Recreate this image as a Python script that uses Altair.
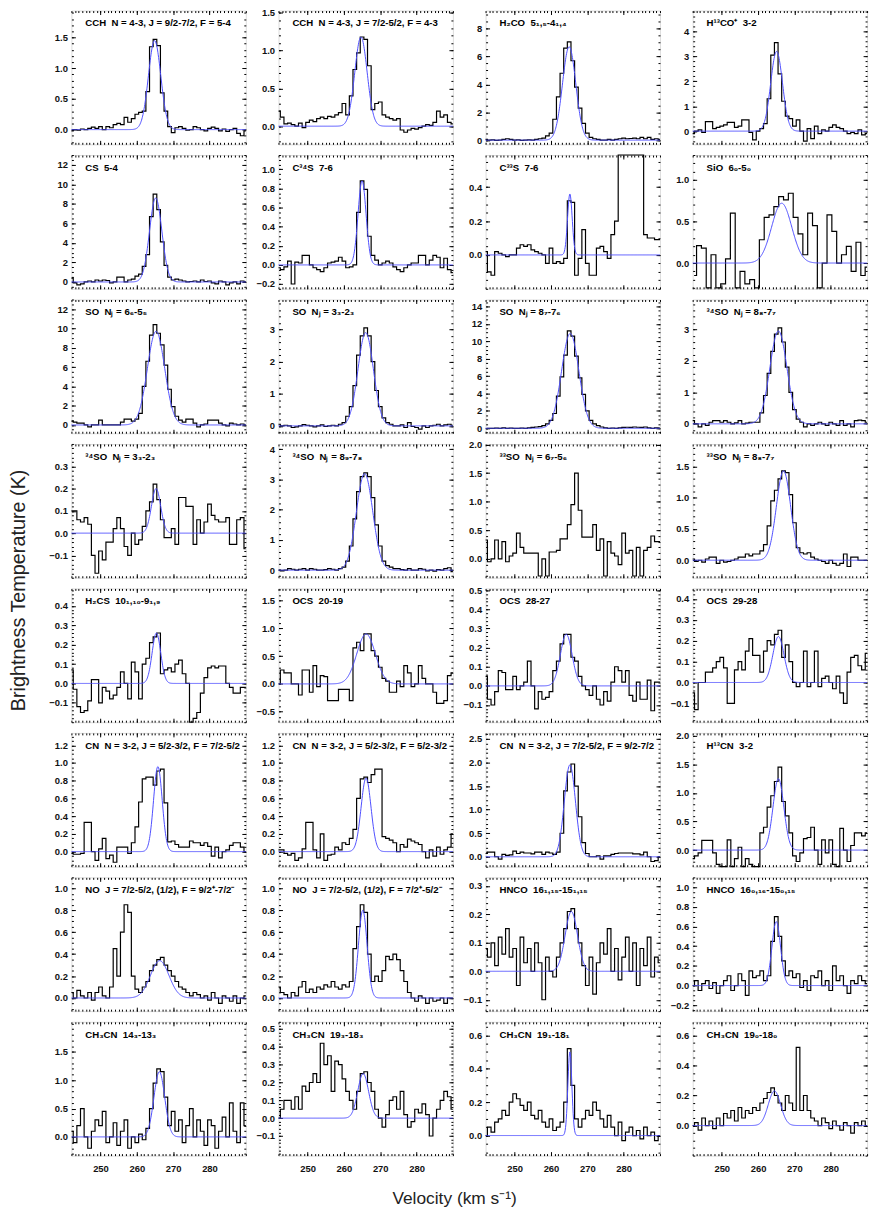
import altair as alt
import numpy as np
import pandas as pd

FONT = "Liberation Sans"
BLUE = "#4d4dff"
V_MIN, V_MAX = 242, 290
X_MAJOR = [250, 260, 270, 280]
X_MINOR = list(range(242, 291))
SP = "\u00a0\u00a0"

titles = [
    f"CCH{SP}N = 4-3, J = 9/2-7/2, F = 5-4", f"CCH{SP}N = 4-3, J = 7/2-5/2, F = 4-3",
    f"H₂CO{SP}5₁,₅-4₁,₄", f"H¹³CO⁺{SP}3-2",
    f"CS{SP}5-4", f"C³⁴S{SP}7-6", f"C³³S{SP}7-6", f"SiO{SP}6₀-5₀",
    f"SO{SP}Nⱼ = 6₆-5₅", f"SO{SP}Nⱼ = 3₃-2₃", f"SO{SP}Nⱼ = 8₇-7₆", f"³⁴SO{SP}Nⱼ = 8₈-7₇",
    f"³⁴SO{SP}Nⱼ = 3₃-2₃", f"³⁴SO{SP}Nⱼ = 8₉-7₈", f"³³SO{SP}Nⱼ = 6₇-5₆", f"³³SO{SP}Nⱼ = 8₈-7₇",
    f"H₂CS{SP}10₁,₁₀-9₁,₉", f"OCS{SP}20-19", f"OCS{SP}28-27", f"OCS{SP}29-28",
    f"CN{SP}N = 3-2, J = 5/2-3/2, F = 7/2-5/2", f"CN{SP}N = 3-2, J = 5/2-3/2, F = 5/2-3/2",
    f"CN{SP}N = 3-2, J = 7/2-5/2, F = 9/2-7/2", f"H¹³CN{SP}3-2",
    f"NO{SP}J = 7/2-5/2, (1/2), F = 9/2⁺-7/2⁻", f"NO{SP}J = 7/2-5/2, (1/2), F = 7/2⁺-5/2⁻",
    f"HNCO{SP}16₁,₁₅-15₁,₁₅", f"HNCO{SP}16₀,₁₆-15₀,₁₅",
    f"CH₃CN{SP}14₃-13₃", f"CH₃CN{SP}19₃-18₃", f"CH₃CN{SP}19₁-18₁", f"CH₃CN{SP}19₀-18₀",
]

y_ranges = [
    (-0.24, 1.94), (-0.24, 1.53), (-0.3, 9.3), (-0.53, 4.84),
    (-0.7, 13.0), (-0.25, 1.15), (-0.2, 0.59), (-0.31, 1.3),
    (-0.86, 13.0), (-0.23, 3.93), (-0.57, 14.8), (-0.3, 3.95),
    (-0.2, 0.4), (-0.25, 4.18), (-0.33, 2.01), (-0.28, 1.86),
    (-0.2, 0.49), (-0.69, 1.72), (-0.19, 0.51), (-0.19, 0.45),
    (-0.17, 1.34), (-0.17, 1.34), (-0.21, 2.63), (-0.29, 2.05),
    (-0.12, 1.1), (-0.12, 1.1), (-0.14, 0.33), (-0.26, 1.1),
    (-0.33, 2.03), (-0.21, 0.54), (-0.12, 0.68), (-0.2, 0.69),
]

y_ticks = [
    [0, 0.5, 1.0, 1.5], [0, 0.5, 1.0, 1.5], [0, 2, 4, 6, 8], [0, 1, 2, 3, 4],
    [0, 2, 4, 6, 8, 10, 12], [-0.2, 0, 0.2, 0.4, 0.6, 0.8, 1.0], [0, 0.2, 0.4], [0, 0.5, 1.0],
    [0, 2, 4, 6, 8, 10, 12], [0, 1, 2, 3], [0, 2, 4, 6, 8, 10, 12, 14], [0, 1, 2, 3],
    [-0.1, 0, 0.1, 0.2, 0.3], [0, 1, 2, 3, 4], [0, 0.5, 1.0, 1.5, 2.0], [0, 0.5, 1.0, 1.5],
    [-0.1, 0, 0.1, 0.2, 0.3, 0.4], [-0.5, 0, 0.5, 1.0, 1.5], [-0.1, 0, 0.1, 0.2, 0.3, 0.4, 0.5], [-0.1, 0, 0.1, 0.2, 0.3, 0.4],
    [0, 0.2, 0.4, 0.6, 0.8, 1.0, 1.2], [0, 0.2, 0.4, 0.6, 0.8, 1.0, 1.2], [0, 0.5, 1.0, 1.5, 2.0, 2.5], [0, 0.5, 1.0, 1.5, 2.0],
    [0, 0.2, 0.4, 0.6, 0.8, 1.0], [0, 0.2, 0.4, 0.6, 0.8, 1.0], [-0.1, 0, 0.1, 0.2, 0.3], [-0.2, 0, 0.2, 0.4, 0.6, 0.8, 1.0],
    [0, 0.5, 1.0, 1.5], [-0.1, 0, 0.1, 0.2, 0.3, 0.4, 0.5], [0, 0.2, 0.4, 0.6], [0, 0.2, 0.4, 0.6],
]

# spectra: brightness temperature per channel (K), channels start at 242 km/s, 1 km/s wide unless noted
spec01 = [-0.02, 0.0, -0.01, 0.01, 0.0, 0.02, 0.04, 0.02, 0.05, 0.0,
          0.05, 0.03, 0.08, 0.1, 0.08, 0.2, 0.12, 0.18, 0.25, 0.28,
          0.3, 0.62, 1.35, 1.47, 1.37, 0.6, 0.3, 0.05, -0.05, 0.03,
          0.05, 0.02, -0.01, 0.0, 0.05, 0.03, 0.0, -0.02, 0.02, 0.04,
          0.02, -0.02, 0.01, -0.03, 0.0, 0.02, -0.06, -0.1, -0.02]
spec02 = [0.2, 0.12, 0.03, 0.04, 0.02, 0.0, 0.04, -0.02, 0.05, 0.08,
          0.06, 0.1, 0.12, 0.1, 0.13, 0.12, 0.15, 0.18, 0.3, 0.15,
          0.4, 0.75, 0.97, 1.18, 1.15, 0.8, 0.22, 0.3, 0.32, 0.15,
          0.12, 0.1, 0.08, 0.1, -0.05, -0.08, -0.05, -0.03, -0.04, -0.02,
          0.0, 0.02, 0.01, 0.05, 0.2, 0.12, 0.15, 0.05, 0.03]
spec03 = [0.05, 0.0, 0.02, -0.02, 0.0, 0.05, 0.1, 0.05, 0.0, 0.02,
          -0.02, 0.0, 0.02, 0.0, 0.05, 0.1, 0.15, 0.3, 0.5, 1.5,
          3.1, 4.8, 6.6, 7.05, 5.7, 3.8, 2.3, 1.2, 0.5, 0.2,
          0.1, 0.05, 0.0, 0.0, 0.05, 0.0, 0.05, 0.1, 0.15, 0.1,
          0.12, 0.15, 0.1, 0.2, 0.1, 0.2, 0.05, 0.1, 0.05]
spec04 = [-0.1, 0.0, 0.05, -0.05, 0.38, 0.38, 0.1, 0.15, 0.2, 0.25,
          0.35, 0.35, 0.15, 0.2, 0.45, 0.45, -0.05, -0.35, 0.0, 0.1,
          0.3, 1.3, 3.05, 3.55, 2.3, 1.2, 0.6, 0.5, 0.2, 0.45,
          0.0, -0.4, 0.1, -0.3, 0.2, -0.1, 0.05, 0.0, 0.15, 0.25,
          0.15, 0.1, 0.0, -0.1, -0.05, -0.1, 0.05, -0.15, -0.1]
spec05 = [0.4, -0.1, -0.3, -0.2, 0.0, 0.1, 0.0, 0.2, 0.1, 0.2,
          0.15, -0.1, 0.0, 0.5, 0.5, 0.0, 0.2, 0.3, 0.6, 0.8,
          1.6, 2.8, 6.7, 9.0, 7.4, 4.1, 1.7, 0.5, 0.2, 0.3,
          0.2, 0.1, 0.0, 0.05, 0.1, 0.0, 0.2, 0.05, 0.1, -0.1,
          -0.2, 0.1, 0.0, -0.3, -0.1, 0.0, -0.2, 0.1, 0.0]
spec06 = [-0.03, -0.05, -0.02, 0.04, -0.2, 0.03, 0.02, 0.1, 0.1, 0.0,
          -0.03, -0.05, -0.07, -0.03, 0.02, 0.03, 0.04, 0.08, 0.04, -0.03,
          -0.02, 0.0, 0.55, 0.88, 0.79, 0.3, 0.1, 0.05, 0.0, 0.02,
          0.04, 0.02, -0.02, -0.05, -0.07, -0.03, 0.0, 0.02, 0.02, 0.1,
          0.1, 0.0, 0.05, 0.1, 0.08, -0.03, 0.07, -0.05, -0.08]
spec07 = [0.02, -0.1, -0.12, 0.02, 0.01, 0.0, -0.01, 0.0, 0.0, 0.04,
          0.06, 0.05, 0.06, 0.03, 0.02, 0.01, 0.0, -0.05, 0.04, -0.05,
          -0.04, -0.05, -0.02, 0.32, 0.31, -0.12, -0.02, 0.15, -0.05, -0.12,
          -0.12, 0.04, 0.05, 0.02, -0.02, 0.12, 0.2, 0.9, 1.2, 1.1,
          1.0, 1.2, 1.0, 0.9, 0.12, 0.1, 0.1, 0.09, 0.09]
# SiO: channels 1.33 km/s wide starting at 242.4 km/s
spec08 = [-0.15, 0.21, 0.18, -0.3, 0.1, -0.3, -0.25, 0.05, 0.6, -0.3,
          -0.1, -0.25, -0.2, -0.3, 0.28, 0.55, 0.58, 0.68, 0.8, 0.76,
          0.84, 0.55, 0.35, 0.1, 0.6, 0.45, -0.3, 0.0, 0.58, 0.38,
          0.0, 0.1, 0.2, -0.1, 0.25, -0.15, -0.05]
spec09 = [0.4, 0.3, 0.2, 0.2, 0.0, -0.2, 0.0, 0.0, 0.5, 0.0,
          0.0, 0.0, 0.0, 0.0, 0.3, 0.6, 0.6, 0.4, 0.6, 1.2,
          4.0, 6.6, 9.3, 10.4, 9.5, 8.3, 6.2, 3.7, 1.9, 0.9,
          0.5, 0.3, 0.6, 0.6, 0.2, -0.2, 0.0, 0.1, 0.5, 0.5,
          0.5, 0.2, 0.0, -0.1, 0.2, 0.1, 0.0, 0.1, 0.0]
spec10 = [0.05, 0.0, 0.02, 0.0, -0.05, -0.03, 0.0, 0.04, 0.02, 0.0,
          -0.03, 0.0, 0.03, -0.02, 0.0, 0.02, 0.0, 0.05, 0.1, 0.3,
          0.6, 1.25, 2.2, 2.8, 3.05, 2.8, 2.0, 1.1, 0.6, 0.25,
          0.1, 0.05, 0.0, 0.0, 0.03, -0.05, 0.1, -0.02, -0.05, -0.1,
          0.0, -0.05, 0.0, 0.02, 0.05, 0.0, 0.03, 0.05, 0.02]
spec11 = [-0.05, 0.0, 0.0, 0.02, 0.0, 0.05, 0.0, 0.02, 0.0, 0.0,
          0.03, 0.0, 0.05, 0.1, 0.15, 0.2, 0.3, 0.5, 0.9, 1.7,
          3.7, 5.9, 8.4, 11.2, 10.6, 8.3, 5.8, 3.9, 2.0, 0.9,
          0.5, 0.3, 0.15, 0.05, 0.0, 0.02, 0.0, 0.05, 0.1, 0.12,
          0.1, 0.15, 0.12, 0.1, 0.15, 0.05, 0.0, 0.05, 0.02]
spec12 = [0.1, 0.0, -0.1, 0.0, -0.05, 0.05, 0.1, 0.1, 0.05, 0.1,
          0.05, 0.0, 0.03, 0.1, 0.0, 0.02, 0.05, 0.05, 0.05, 0.35,
          0.9, 1.6, 2.3, 2.85, 3.05, 2.6, 1.8, 1.0, 0.45, 0.15,
          0.05, -0.1, 0.0, -0.05, 0.0, 0.05, 0.0, -0.05, 0.05, 0.0,
          -0.05, 0.1, -0.05, 0.0, -0.1, 0.1, 0.12, 0.1, 0.05]
spec13 = [0.1, 0.1, 0.06, 0.05, 0.07, 0.04, -0.1, -0.18, -0.08, -0.12,
          -0.04, -0.04, 0.02, 0.07, 0.02, -0.06, -0.1, 0.0, -0.05, -0.03,
          0.03, 0.1, 0.14, 0.22, 0.15, 0.06, -0.02, -0.02, 0.02, -0.05,
          0.16, 0.16, 0.12, 0.12, -0.05, 0.06, 0.0, 0.05, 0.13, 0.08,
          0.06, 0.05, 0.05, 0.07, -0.05, -0.05, 0.06, 0.07, -0.07]
spec14 = [0.0, -0.02, 0.0, 0.05, 0.03, 0.0, 0.03, 0.05, 0.0, 0.05,
          0.03, 0.0, 0.0, 0.02, 0.05, 0.03, 0.0, 0.05, 0.1, 0.3,
          0.8, 1.7, 2.6, 3.1, 3.22, 3.1, 2.4, 1.5, 0.8, 0.3,
          0.15, 0.1, 0.05, 0.05, 0.02, 0.0, 0.05, 0.0, 0.0, 0.05,
          0.03, -0.02, 0.0, -0.03, 0.02, 0.0, 0.05, 0.08, -0.05]
spec15 = [0.33, -0.05, 0.0, 0.33, 0.0, 0.3, -0.05, 0.05, 0.1, 0.45,
          0.2, 0.1, 0.1, 0.1, 0.1, -0.3, 0.0, -0.3, 0.12, 0.12,
          0.15, 0.35, 0.35, 0.6, 0.95, 1.5, 0.85, 0.38, 0.38, 0.38,
          0.6, 0.15, 0.35, -0.3, 0.3, 0.1, 0.05, -0.1, 0.45, 0.1,
          0.15, -0.3, 0.2, -0.3, 0.15, 0.2, 0.4, 0.3, 0.3]
spec16 = [0.02, -0.02, 0.0, -0.03, 0.02, 0.05, 0.05, -0.05, 0.0, -0.03,
          -0.02, 0.0, 0.02, 0.05, 0.05, 0.1, 0.07, 0.1, 0.1, 0.15,
          0.25, 0.55, 0.95, 1.12, 1.3, 1.43, 1.4, 1.05, 0.6, 0.2,
          0.12, 0.1, 0.12, 0.05, 0.02, 0.0, -0.02, -0.05, 0.0, -0.05,
          -0.08, -0.05, 0.1, -0.1, 0.05, 0.05, 0.0, 0.0, 0.0]
spec17 = [0.07, -0.03, -0.12, -0.15, -0.14, -0.09, 0.02, 0.02, -0.1, -0.02,
          -0.04, -0.08, -0.06, -0.02, 0.06, 0.0, -0.08, 0.11, 0.06, -0.08,
          0.1, 0.13, 0.21, 0.24, 0.26, 0.05, 0.07, 0.08, 0.06, 0.1,
          0.12, 0.05, 0.0, -0.2, -0.18, -0.15, -0.05, 0.03, 0.08, 0.09,
          0.08, 0.09, 0.09, 0.0, -0.02, -0.05, -0.05, -0.02, -0.02]
spec18 = [0.0, 0.25, 0.2, 0.2, 0.0, 0.0, -0.2, 0.25, 0.25, -0.15,
          0.33, -0.05, 0.15, 0.13, -0.3, -0.3, -0.3, -0.1, -0.1, -0.1,
          -0.3, 0.65, 0.75, 0.6, 0.9, 0.9, 0.6, 0.5, 0.3, 0.1,
          0.05, -0.15, -0.15, 0.05, -0.05, 0.33, 0.2, -0.05, 0.0, 0.33,
          0.1, 0.0, 0.0, -0.15, -0.35, -0.35, -0.3, 0.15, 0.2]
spec19 = [0.05, -0.07, -0.1, -0.03, 0.08, 0.07, -0.02, -0.02, 0.05, -0.02,
          0.0, 0.02, 0.13, 0.0, -0.12, -0.03, -0.07, -0.06, -0.03, 0.08,
          0.13, 0.22, 0.27, 0.27, 0.15, 0.13, 0.05, 0.0, -0.02, -0.05,
          0.0, -0.07, -0.1, -0.03, -0.08, 0.02, 0.1, 0.08, 0.02, 0.08,
          -0.05, -0.08, 0.02, -0.07, -0.07, 0.03, -0.13, 0.02, 0.02]
spec20 = [-0.05, -0.13, 0.0, 0.0, 0.05, 0.05, 0.07, 0.1, 0.12, 0.07,
          -0.1, -0.1, 0.06, 0.1, 0.06, 0.15, 0.21, 0.13, 0.13, 0.05,
          0.15, 0.2, 0.18, 0.23, 0.25, 0.12, 0.18, 0.1, 0.0, -0.02,
          0.0, 0.15, -0.02, 0.0, 0.15, -0.02, 0.02, 0.03, 0.0, -0.03,
          0.03, -0.05, -0.1, 0.05, 0.12, 0.13, 0.08, 0.06, 0.14]
spec21 = [-0.02, -0.03, -0.03, -0.02, 0.33, 0.33, 0.0, -0.1, 0.03, 0.15,
          -0.08, -0.04, -0.12, 0.05, 0.05, 0.05, -0.02, 0.1, 0.28, 0.56,
          0.82, 0.84, 0.84, 0.75, 0.91, 0.93, 0.55, 0.11, 0.12, 0.08,
          0.05, 0.05, 0.05, 0.12, 0.1, 0.1, 0.07, 0.1, 0.06, -0.05,
          0.05, -0.07, 0.0, 0.02, 0.07, 0.1, 0.1, 0.05, 0.0]
spec22 = [0.02, 0.02, -0.02, -0.04, -0.02, -0.1, -0.07, 0.03, 0.33, 0.33,
          0.02, -0.07, 0.2, -0.1, -0.04, -0.03, 0.05, 0.02, 0.1, 0.08,
          0.15, 0.25, 0.6, 0.82, 0.84, 0.78, 0.87, 0.93, 0.93, 0.17,
          0.15, 0.13, 0.1, 0.0, 0.08, 0.05, 0.14, 0.12, 0.1, 0.08,
          0.0, -0.07, 0.02, -0.05, 0.05, -0.03, 0.02, 0.05, 0.2]
spec23 = [0.07, 0.1, 0.1, 0.0, -0.05, 0.05, 0.03, 0.04, 0.12, 0.07,
          0.1, 0.08, 0.08, 0.06, 0.1, 0.1, 0.05, 0.1, 0.08, 0.05,
          0.1, 0.5, 1.4, 1.8, 1.97, 1.5, 0.85, 0.3, 0.07, 0.0,
          0.0, 0.02, -0.05, 0.02, 0.02, 0.05, 0.07, 0.08, 0.08, 0.08,
          0.08, 0.06, 0.06, 0.04, 0.1, 0.0, -0.1, -0.08, 0.0]
spec24 = [-0.15, -0.1, -0.05, 0.17, 0.17, 0.17, -0.05, -0.25, -0.3, -0.35,
          0.18, -0.35, -0.15, 0.05, -0.35, -0.15, -0.25, -0.35, -0.35, 0.3,
          0.4, 0.75, 0.95, 1.2, 1.45, 0.85, 0.6, 0.3, -0.1, -0.2,
          -0.05, 0.2, 0.22, 0.4, 0.0, -0.25, 0.18, -0.05, 0.18, -0.25,
          -0.35, 0.38, 0.0, -0.2, 0.08, 0.3, 0.3, 0.25, 0.3]
spec25 = [0.05, 0.0, 0.07, 0.02, 0.0, 0.05, -0.02, 0.05, 0.1, 0.02,
          0.0, 0.1, 0.45, 0.2, 0.6, 0.85, 0.78, 0.2, 0.08, 0.05,
          0.1, 0.15, 0.25, 0.3, 0.35, 0.37, 0.3, 0.25, 0.2, 0.15,
          0.1, 0.08, 0.05, 0.02, 0.05, 0.03, 0.0, 0.02, -0.02, 0.05,
          0.0, -0.05, 0.02, 0.0, -0.03, 0.02, -0.05, 0.0, 0.02]
spec26 = [0.1, 0.05, 0.03, 0.0, 0.05, 0.02, 0.1, 0.15, 0.05, 0.08,
          0.05, 0.1, 0.08, 0.12, 0.1, 0.15, 0.1, 0.08, 0.12, 0.1,
          0.15, 0.45, 0.65, 0.85, 0.78, 0.4, 0.15, 0.2, 0.15, 0.25,
          0.38, 0.35, 0.4, 0.35, 0.25, 0.15, 0.05, 0.0, -0.03, 0.02,
          0.0, -0.05, 0.0, -0.03, -0.02, 0.0, -0.05, 0.0, 0.0]
spec27 = [0.08, 0.05, 0.1, 0.02, 0.12, 0.06, 0.15, 0.05, 0.08, -0.05,
          0.12, 0.03, 0.08, 0.0, 0.1, 0.03, -0.1, 0.05, 0.0, -0.02,
          0.05, 0.1, 0.15, 0.21, 0.22, 0.15, 0.1, 0.02, -0.05, 0.05,
          -0.08, 0.03, 0.1, 0.06, 0.15, 0.0, 0.08, -0.03, 0.05, 0.12,
          0.0, 0.1, -0.05, 0.08, 0.02, 0.12, -0.02, 0.05, 0.03]
spec28 = [0.0, 0.05, -0.05, 0.02, 0.05, -0.03, 0.03, -0.08, 0.0, 0.05,
          0.1, -0.05, 0.0, 0.12, 0.05, -0.1, 0.15, 0.08, 0.1, 0.15,
          0.05, 0.1, 0.45, 0.7, 0.5, 0.25, 0.1, 0.15, 0.08, 0.12,
          -0.02, 0.05, -0.05, 0.1, 0.08, 0.15, 0.0, 0.05, -0.05, 0.2,
          0.05, 0.1, 0.0, -0.08, 0.05, 0.02, 0.1, 0.05, 0.02]
spec29 = [0.1, -0.1, 0.2, 0.5, 0.0, -0.2, 0.1, 0.3, 0.2, 0.45,
          -0.1, 0.0, 0.25, -0.15, 0.1, 0.3, -0.2, 0.0, -0.1, 0.05,
          -0.05, 0.15, 0.5, 0.95, 1.2, 1.15, 0.7, 0.2, 0.45, 0.1,
          0.3, -0.1, 0.2, 0.5, 0.0, 0.3, 0.1, -0.15, 0.3, 0.2,
          -0.2, 0.1, 0.35, 0.0, 0.6, 0.1, -0.1, 0.6, 0.2]
spec30 = [0.0, 0.05, 0.1, 0.1, 0.05, 0.12, 0.05, 0.18, 0.15, 0.2,
          0.25, 0.2, 0.42, 0.3, 0.35, 0.15, 0.32, 0.3, 0.22, 0.15,
          0.1, 0.05, 0.15, 0.25, 0.26, 0.2, 0.15, 0.05, 0.0, -0.05,
          0.02, 0.1, 0.12, 0.05, 0.15, 0.02, -0.05, -0.02, 0.05, 0.03,
          0.08, 0.02, -0.1, 0.0, 0.05, 0.1, 0.15, 0.12, 0.05]
spec31 = [0.0, 0.05, 0.02, 0.08, 0.1, 0.15, 0.12, 0.2, 0.25, 0.22,
          0.18, 0.15, 0.2, 0.12, 0.1, 0.15, 0.08, 0.05, 0.1, 0.03,
          0.05, 0.08, 0.2, 0.52, 0.3, 0.1, 0.05, 0.1, 0.15, 0.12,
          0.2, 0.15, 0.1, 0.05, 0.12, 0.05, 0.0, 0.08, -0.03, 0.02,
          0.05, 0.0, 0.03, -0.02, 0.05, 0.0, 0.02, -0.03, 0.0]
spec32 = [0.0, 0.02, -0.03, 0.05, 0.0, 0.03, -0.02, 0.05, 0.0, 0.08,
          0.05, 0.1, 0.03, 0.12, 0.05, 0.1, 0.08, 0.12, 0.1, 0.15,
          0.18, 0.22, 0.25, 0.2, 0.15, 0.1, 0.2, 0.15, 0.1, 0.52,
          0.1, 0.2, 0.1, 0.05, 0.03, 0.0, 0.05, 0.02, -0.02, 0.03,
          0.0, -0.03, 0.02, 0.0, -0.05, 0.02, 0.0, 0.03, 0.0]

spectra = [spec01, spec02, spec03, spec04, spec05, spec06, spec07, spec08,
           spec09, spec10, spec11, spec12, spec13, spec14, spec15, spec16,
           spec17, spec18, spec19, spec20, spec21, spec22, spec23, spec24,
           spec25, spec26, spec27, spec28, spec29, spec30, spec31, spec32]

chan_start = [242.0] * 32
chan_width = [1.0] * 32
chan_start[7] = 242.4
chan_width[7] = 1.33

# Gaussian fits: (peak K, centre km/s, FWHM km/s); None = no fit shown
fits = [
    (1.45, 264.9, 4.0), (1.18, 264.7, 4.0), (6.7, 265.0, 4.3), (3.2, 265.1, 3.8),
    (8.6, 265.2, 4.0), (0.88, 265.0, 2.6), (0.36, 265.2, 1.5), (0.72, 266.5, 6.5),
    (9.7, 265.3, 5.6), (2.9, 266.0, 5.0), (10.9, 265.3, 5.6), (2.95, 265.6, 5.5),
    (0.2, 265.3, 3.0), (3.2, 265.7, 5.3), None, (1.43, 267.0, 4.6),
    (0.26, 265.4, 2.8), (0.9, 266.1, 6.0), (0.27, 264.2, 3.8), (0.22, 265.6, 3.6),
    (0.96, 265.8, 2.8), (0.83, 266.1, 3.2), (1.95, 265.2, 3.6), (1.25, 265.6, 3.5),
    (0.34, 266.3, 6.0), (0.8, 265.2, 2.8), (0.21, 265.6, 4.0), (0.65, 265.0, 2.8),
    (1.15, 266.2, 3.5), (0.25, 265.3, 3.5), (0.5, 265.2, 1.3), (0.23, 264.5, 4.0),
]

PW, PH = 176, 135


def axis(orient, values, size, labels=False, fmt=None, extent=0, pad=4):
    kw = dict(orient=orient, values=values, tickSize=size, offset=-size,
              domain=False, grid=False, title=None, labels=labels,
              tickColor="black", tickWidth=1, minExtent=extent, maxExtent=extent,
              labelFlush=False, labelOverlap=False)
    if labels:
        kw.update(labelFont=FONT, labelFontSize=9.5, labelFontWeight="bold",
                  labelColor="#111", labelPadding=pad)
    if fmt:
        kw["format"] = fmt
    return alt.Axis(**kw)


def make_panel(i):
    row = i // 4
    ymin, ymax = y_ranges[i]
    ticks = y_ticks[i]
    step = round(ticks[1] - ticks[0], 6)
    fmt = "d" if step >= 1 else ".1f"
    lead = round(step / 10 ** np.floor(np.log10(step)))
    mstep = step / 4 if lead == 2 else step / 5
    k0 = int(np.ceil(ymin / mstep - 1e-9))
    k1 = int(np.floor(ymax / mstep + 1e-9))
    yminor = [round(k * mstep, 6) for k in range(k0, k1 + 1)]

    xs = alt.Scale(domain=[V_MIN, V_MAX], nice=False, zero=False, clamp=True)
    ys = alt.Scale(domain=[ymin, ymax], nice=False, zero=False, clamp=True)

    vals = spectra[i]
    v = [round(chan_start[i] + chan_width[i] * k, 3) for k in range(len(vals))]
    sdf = pd.DataFrame({"v": v, "T": vals})

    bottom = row == 7
    spec = alt.Chart(sdf).mark_line(interpolate="step", color="black", strokeWidth=1.2).encode(
        x=alt.X("v:Q", scale=xs, axis=axis("bottom", X_MAJOR, 4, labels=bottom, fmt="d",
                                           extent=20 if bottom else 0, pad=8)),
        y=alt.Y("T:Q", scale=ys, axis=axis("left", ticks, 4, labels=True, fmt=fmt, extent=30)),
    )
    minor1 = alt.Chart(sdf).mark_line(strokeOpacity=0).encode(
        x=alt.X("v:Q", scale=xs, axis=axis("bottom", X_MINOR, 2)),
        y=alt.Y("T:Q", scale=ys, axis=axis("left", yminor, 2)),
    )
    minor2 = alt.Chart(sdf).mark_line(strokeOpacity=0).encode(
        x=alt.X("v:Q", scale=xs, axis=axis("top", X_MINOR, 2)),
        y=alt.Y("T:Q", scale=ys, axis=axis("right", yminor, 2)),
    )
    if fits[i] is not None:
        amp, cen, fw = fits[i]
        vg = np.round(np.linspace(V_MIN, V_MAX, 481), 3)
        fdf = pd.DataFrame({"v": vg, "T": amp * np.exp(-4 * np.log(2) * (vg - cen) ** 2 / fw ** 2)})
        fit = alt.Chart(fdf).mark_line(color=BLUE, strokeWidth=1)
    else:
        fdf = sdf
        fit = alt.Chart(fdf).mark_line(strokeOpacity=0)
    fit = fit.encode(
        x=alt.X("v:Q", scale=xs, axis=axis("top", X_MAJOR, 4)),
        y=alt.Y("T:Q", scale=ys, axis=axis("right", ticks, 4)),
    )
    label = alt.Chart(pd.DataFrame({"t": [titles[i]]})).mark_text(
        align="left", baseline="middle", font=FONT, fontSize=9.7, fontWeight="bold", color="black"
    ).encode(x=alt.value(14), y=alt.value(13), text="t:N")

    return alt.layer(minor1, minor2, spec, fit, label).resolve_axis(
        x="independent", y="independent"
    ).properties(width=PW, height=PH)


panels = [make_panel(i) for i in range(32)]

grid = alt.concat(
    *panels, columns=4, spacing={"row": 10.8, "column": 33}, align="each", bounds="flush"
).properties(
    title=alt.TitleParams("Brightness Temperature (K)", orient="left", anchor="middle",
                          font=FONT, fontSize=20, fontWeight="normal", color="#222", offset=16)
)

chart = alt.vconcat(grid).properties(
    title=alt.TitleParams("Velocity (km s⁻¹)", orient="bottom", anchor="middle",
                          font=FONT, fontSize=17.5, fontWeight="normal", color="#222",
                          offset=17, dx=15),
    padding={"left": 1, "top": -7, "right": 5, "bottom": 5},
).configure_view(stroke="black", strokeWidth=1).configure(font=FONT)

chart.save("out.html", embed_options={"renderer": "svg", "actions": False})
